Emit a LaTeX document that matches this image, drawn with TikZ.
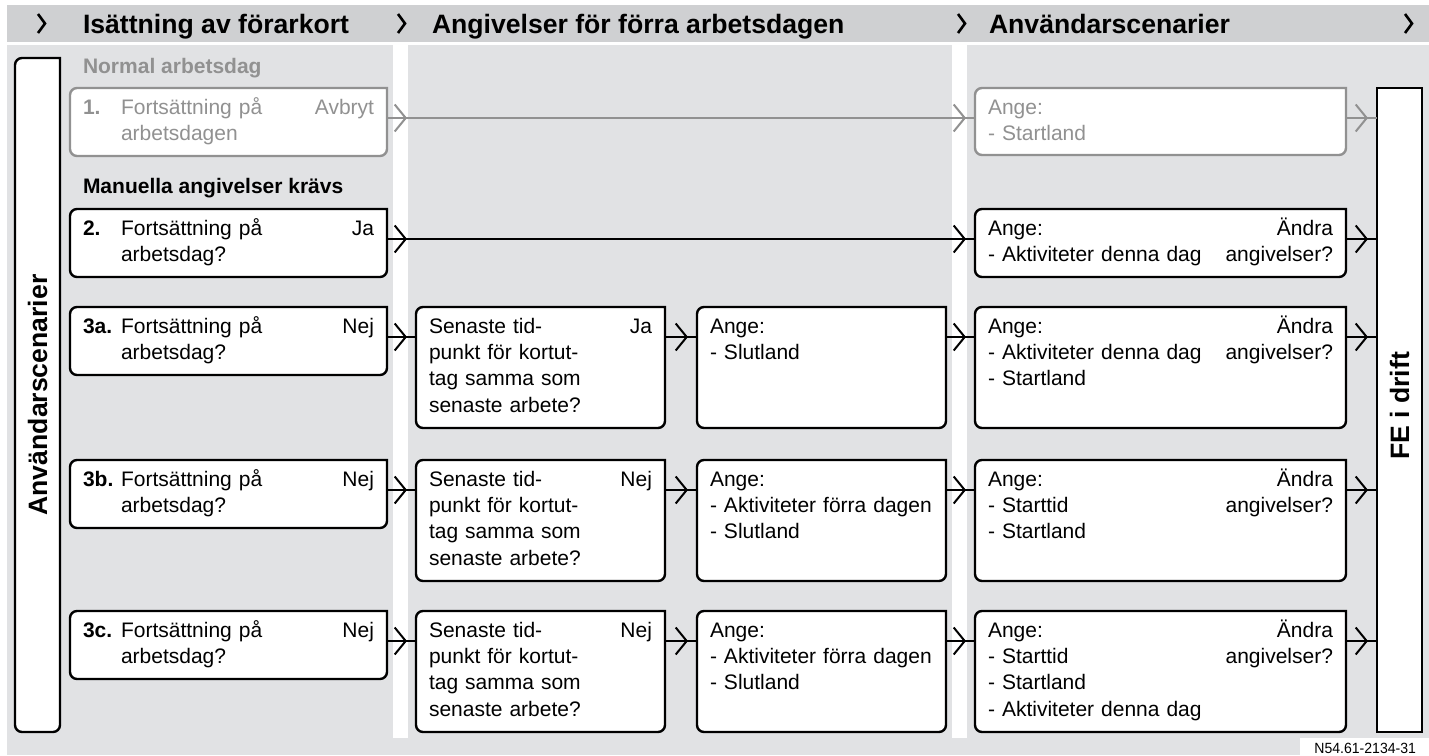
\documentclass[tikz,border=0pt]{standalone}
\usepackage{fontspec}
\setmainfont{Liberation Sans}
\newfontfamily\narrowfont[FakeStretch=0.95]{Liberation Sans}
\usetikzlibrary{arrows.meta,decorations.markings,backgrounds}

\definecolor{band}{RGB}{207,208,210}
\definecolor{panel}{RGB}{225,226,228}
\definecolor{dim}{RGB}{145,145,145}

\newcommand\rowno[1]{\makebox[19pt][l]{\textbf{#1}}}
% frame with rounded left corners, square right corners
\newcommand\tabframe[2]{\draw[#2,fill=white,line width=1.2pt] (#1.north east) [rounded corners=3.5pt] -- (#1.north west) -- (#1.south west) -- (#1.south east) [sharp corners] -- cycle;}

\begin{document}
\begin{tikzpicture}[x=0.5pt,y=-0.5pt,
  every node/.style={font=\fontsize{10.5}{13.2}\selectfont, outer sep=0pt},
  chev/.tip={Straight Barb[length=5.5pt,width=13.5pt]},
  box/.style={anchor=north west, inner xsep=6.5pt, inner ysep=0pt, text height=13pt, align=left},
  low/.style={box, text width=145.5pt, text depth=21pt},
  tall/.style={box, text width=111.5pt, text depth=47.5pt},
  wide/.style={box, text width=172.5pt, text depth=#1},
  link/.style={line width=1pt, postaction={decorate},
    decoration={markings, mark=at position -4.5pt with {\arrow{chev}}}},
  longlink/.style={line width=1pt, postaction={decorate},
    decoration={markings, mark=at position 10pt with {\arrow{chev}},
      mark=at position -4.5pt with {\arrow{chev}}}},
  head/.style={font=\fontsize{13.3}{15}\selectfont\bfseries, anchor=base west, inner sep=0pt},
  group/.style={font=\fontsize{10.5}{13}\selectfont\bfseries, anchor=base west, inner sep=0pt},
  side/.style={font=\fontsize{13.3}{15}\selectfont\bfseries, rotate=90, inner sep=0pt}
]
\useasboundingbox (0,0) rectangle (1429,755);

% panels
\begin{scope}[on background layer]
\fill[band] (7,5) rectangle (1429,42);
\fill[panel] (7,45) rectangle (1429,755);
\fill[white] (393,45) rectangle (408,738);
\fill[white] (952,45) rectangle (967,738);
\fill[white] (1300,738) rectangle (1429,755);
\end{scope}

% header
\foreach \x in {38,398,958,1405}
  \draw[line width=1.3pt] (\x,14) -- (\x+7,23.5) -- (\x,33);
\node[head] (h1) at (83,33) {Isättning av förarkort};
\node[head] (h2) at (432,33) {Angivelser för förra arbetsdagen};
\node[head] (h3) at (989,33) {Användarscenarier};

% side columns
\node[anchor=north west, minimum width=22.5pt, minimum height=337pt, inner sep=0pt] (us) at (15,58) {};
\node[side] (usname) at (us.center) {Användarscenarier};
\node[anchor=north west, minimum width=22.5pt, minimum height=322pt, inner sep=0pt] (fe) at (1377,88) {};
\node[side] (fename) at ([yshift=2pt]fe.center) {FE i drift};

\node[group, dim] (g1) at (83,73) {Normal arbetsdag};
\node[group] (g2) at (83,193) {Manuella angivelser krävs};

% start of the working day
\node[low, dim] (q1) at (70,88) {\rowno{1.}Fortsättning på\hfill Avbryt\\\rowno{}arbetsdagen};
\node[low] (q2) at (70,209) {\rowno{2.}Fortsättning på\hfill Ja\\\rowno{}arbetsdag?};
\node[low] (q3a) at (70,307) {\rowno{3a.}Fortsättning på\hfill Nej\\\rowno{}arbetsdag?};
\node[low] (q3b) at (70,460) {\rowno{3b.}Fortsättning på\hfill Nej\\\rowno{}arbetsdag?};
\node[low] (q3c) at (70,611) {\rowno{3c.}Fortsättning på\hfill Nej\\\rowno{}arbetsdag?};

% last withdrawal
\node[tall] (t3a) at (416,307) {Senaste tid-\hfill Ja\\punkt för kortut-\\tag samma som\\senaste arbete?};
\node[tall] (t3b) at (416,460) {Senaste tid-\hfill Nej\\punkt för kortut-\\tag samma som\\senaste arbete?};
\node[tall] (t3c) at (416,611) {Senaste tid-\hfill Nej\\punkt för kortut-\\tag samma som\\senaste arbete?};

% previous day
\node[tall] (p3a) at (697,307) {Ange:\\- Slutland};
\node[tall] (p3b) at (697,460) {Ange:\\- Aktiviteter förra dagen\\- Slutland};
\node[tall] (p3c) at (697,611) {Ange:\\- Aktiviteter förra dagen\\- Slutland};

% entries for this day
\node[wide=20.5pt, dim] (a1) at (975,88) {Ange:\\- Startland};
\node[wide=21pt] (a2) at (975,209) {Ange:\hfill Ändra\\- Aktiviteter denna dag\hfill angivelser?};
\node[wide=47.5pt] (a3a) at (975,307) {Ange:\hfill Ändra\\- Aktiviteter denna dag\hfill angivelser?\\- Startland};
\node[wide=47.5pt] (a3b) at (975,460) {Ange:\hfill Ändra\\- Starttid\hfill angivelser?\\- Startland};
\node[wide=47.5pt] (a3c) at (975,611) {Ange:\hfill Ändra\\- Starttid\hfill angivelser?\\- Startland\\- Aktiviteter denna dag};

\node[font=\narrowfont\fontsize{7.4}{8}\selectfont, anchor=base east, inner sep=0pt] (ref) at (1416,753) {N54.61-2134-31};

% frames
\begin{scope}[on background layer]
\tabframe{us}{black}
\draw[line width=1.2pt, fill=white] (fe.north west) rectangle (fe.south east);
\tabframe{q1}{dim}
\tabframe{a1}{dim}
\foreach \n in {q2,q3a,q3b,q3c,t3a,t3b,t3c,p3a,p3b,p3c,a2,a3a,a3b,a3c}
  {\tabframe{\n}{black}}
\end{scope}

% connectors
\draw[longlink, dim] ([yshift=-15pt]q1.north east) coordinate (p) -- (p -| a1.west);
\draw[link, dim] ([yshift=-15pt]a1.north east) coordinate (p) -- (p -| fe.west);
\draw[longlink] ([yshift=-15pt]q2.north east) coordinate (p) -- (p -| a2.west);
\foreach \a/\b in {a2/fe,q3a/t3a,t3a/p3a,p3a/a3a,a3a/fe,q3b/t3b,t3b/p3b,p3b/a3b,a3b/fe,q3c/t3c,t3c/p3c,p3c/a3c,a3c/fe}
  \draw[link] ([yshift=-15pt]\a.north east) coordinate (p) -- (p -| \b.west);

\end{tikzpicture}
\end{document}
